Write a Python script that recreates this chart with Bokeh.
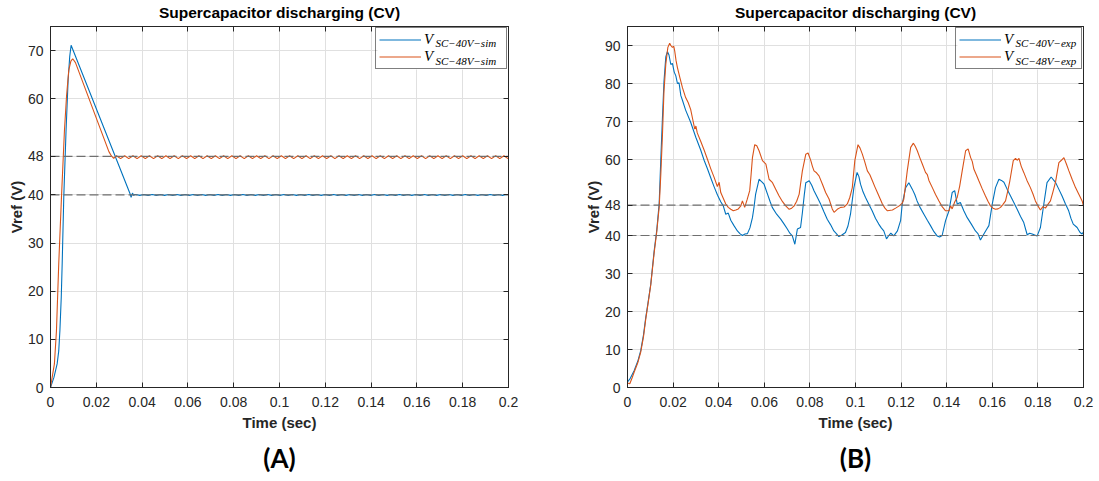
import numpy as np
from bokeh.plotting import figure
from bokeh.layouts import row
from bokeh.models import (FixedTicker, LinearAxis, Span, Legend, LegendItem, Label, Title,
                          CustomLabelingPolicy, BoxAnnotation)
from bokeh.embed import file_html
from bokeh.resources import INLINE

# ------------------------------------------------------------------ data
x_ticks = [0, 0.02, 0.04, 0.06, 0.08, 0.1, 0.12, 0.14, 0.16, 0.18, 0.2]
x_tick_labels = ["0", "0.02", "0.04", "0.06", "0.08", "0.1", "0.12", "0.14", "0.16", "0.18", "0.2"]
y_ticks_a = [0, 10, 20, 30, 40, 48, 60, 70]
y_ticks_b = [0, 10, 20, 30, 40, 48, 60, 70, 80, 90]
ref_levels = [40, 48]
panel_titles = ["Supercapacitor discharging (CV)", "Supercapacitor discharging (CV)"]
panel_captions = ["(A)", "(B)"]
legend_subs_a = ["SC\u221240V\u2212sim", "SC\u221248V\u2212sim"]
legend_subs_b = ["SC\u221240V\u2212exp", "SC\u221248V\u2212exp"]

# (A) simulation, V_SC-40V-sim : rise, peak, linear decay
sim40_t = [0, 0.0015, 0.0029, 0.0036, 0.0041, 0.0047, 0.0051, 0.0058, 0.0068, 0.0077,
           0.0084, 0.0090, 0.0347, 0.0352, 0.0358, 0.0363, 0.0368]
sim40_v = [0, 2.1, 4.9, 7.6, 11.8, 18.8, 25.7, 39.6, 53.5, 63.9,
           68.8, 71.1, 40.3, 39.5, 40.4, 39.9, 40.1]
# small steady-state ripple around 40 V (from t = 0.0372 s, every 0.0018 s)
sim40_ripple_v = [
    40.10, 39.92, 40.10, 39.92, 40.10, 39.92, 40.10, 39.92, 40.10, 39.92,
    40.10, 39.92, 40.10, 39.92, 40.10, 39.92, 40.10, 39.92, 40.10, 39.92,
    40.10, 39.92, 40.10, 39.92, 40.10, 39.92, 40.10, 39.92, 40.10, 39.92,
    40.10, 39.92, 40.10, 39.92, 40.10, 39.92, 40.10, 39.92, 40.10, 39.92,
    40.10, 39.92, 40.10, 39.92, 40.10, 39.92, 40.10, 39.92, 40.10, 39.92,
    40.10, 39.92, 40.10, 39.92, 40.10, 39.92, 40.10, 39.92, 40.10, 39.92,
    40.10, 39.92, 40.10, 39.92, 40.10, 39.92, 40.10, 39.92, 40.10, 39.92,
    40.10, 39.92, 40.10, 39.92, 40.10, 39.92, 40.10, 39.92, 40.10, 39.92,
    40.10, 39.92, 40.10, 39.92, 40.10, 39.92, 40.10, 39.92, 40.10, 39.92,
    40.10]

# (A) simulation, V_SC-48V-sim
sim48_t = [0, 0.0017, 0.0026, 0.0036, 0.0048, 0.0061, 0.0070, 0.0080, 0.0089, 0.0097,
           0.0109, 0.0255, 0.0266, 0.0276]
sim48_v = [0, 4.9, 11.8, 25.7, 39.6, 53.5, 60.5, 66.0, 67.8, 68.3,
           67.5, 49.0, 48.1, 47.6]
# steady-state ripple around 48 V (from t = 0.0288 s, every 0.0018 s)
sim48_ripple_v = [
    48.15, 47.55, 48.15, 47.55, 48.15, 47.55, 48.15, 47.55, 48.15, 47.55, 48.15, 47.55,
    48.15, 47.55, 48.15, 47.55, 48.15, 47.55, 48.15, 47.55, 48.15, 47.55, 48.15, 47.55,
    48.15, 47.55, 48.15, 47.55, 48.15, 47.55, 48.15, 47.55, 48.15, 47.55, 48.15, 47.55,
    48.15, 47.55, 48.15, 47.55, 48.15, 47.55, 48.15, 47.55, 48.15, 47.55, 48.15, 47.55,
    48.15, 47.55, 48.15, 47.55, 48.15, 47.55, 48.15, 47.55, 48.15, 47.55, 48.15, 47.55,
    48.15, 47.55, 48.15, 47.55, 48.15, 47.55, 48.15, 47.55, 48.15, 47.55, 48.15, 47.55,
    48.15, 47.55, 48.15, 47.55, 48.15, 47.55, 48.15, 47.55, 48.15, 47.55, 48.15, 47.55,
    48.15, 47.55, 48.15, 47.55, 48.15, 47.55, 48.15, 47.55, 48.15, 47.55, 48.15, 47.55]

# (B) experiment, V_SC-40V-exp
exp40_t = [0, 0.001, 0.0029, 0.0045, 0.0058, 0.007, 0.008, 0.009, 0.0102, 0.0117,
           0.0128, 0.0139, 0.0146, 0.0153, 0.016, 0.0168, 0.0175, 0.0182, 0.019, 0.0197,
           0.0205, 0.0212, 0.0219, 0.0226, 0.0234, 0.0241, 0.0255, 0.0277, 0.03, 0.0321,
           0.0336, 0.0351, 0.0365, 0.038, 0.0395, 0.0409, 0.042, 0.0431, 0.0442, 0.0453,
           0.0467, 0.0482, 0.0493, 0.0504, 0.0515, 0.0526, 0.0537, 0.0548, 0.0555, 0.0562,
           0.0577, 0.0588, 0.0599, 0.0614, 0.0625, 0.0635, 0.0654, 0.0672, 0.0687, 0.0701,
           0.0712, 0.0723, 0.0734, 0.0745, 0.0759, 0.0767, 0.0775, 0.0782, 0.0797, 0.0808,
           0.0818, 0.0833, 0.0847, 0.0862, 0.0876, 0.0891, 0.0905, 0.0916, 0.0927, 0.0942,
           0.0956, 0.0967, 0.0978, 0.0993, 0.1007, 0.1015, 0.1022, 0.1033, 0.1044, 0.1058,
           0.1073, 0.1088, 0.1102, 0.1113, 0.1124, 0.1136, 0.1146, 0.1155, 0.1168, 0.1184,
           0.1198, 0.1205, 0.122, 0.1234, 0.1249, 0.126, 0.127, 0.1285, 0.13, 0.1315,
           0.1329, 0.1344, 0.1358, 0.1369, 0.138, 0.1395, 0.141, 0.1424, 0.1435, 0.1446,
           0.146, 0.1475, 0.149, 0.1508, 0.1526, 0.1537, 0.1548, 0.1563, 0.1574, 0.1585,
           0.16, 0.1614, 0.1629, 0.164, 0.1651, 0.1665, 0.168, 0.1695, 0.1709, 0.1724,
           0.1738, 0.1753, 0.1764, 0.1775, 0.1786, 0.1797, 0.1811, 0.1826, 0.184, 0.1858,
           0.1877, 0.189, 0.1906, 0.192, 0.1935, 0.1945, 0.1955, 0.1972, 0.1985, 0.1994,
           0.2]
exp40_v = [1.5, 2.2, 4.4, 6.9, 9.7, 13.8, 18.4, 22.3, 27.2, 36.0,
           41.2, 48.5, 60.0, 70.5, 80.5, 87.0, 88.4, 87.5, 85.0, 85.3,
           83.0, 82.0, 80.0, 80.2, 76.8, 75.6, 73.0, 69.8, 65.8, 62.5,
           59.8, 57.5, 55.2, 52.8, 50.6, 48.9, 47.8, 45.6, 45.9, 44.0,
           42.6, 41.2, 40.5, 40.0, 40.4, 40.5, 42.0, 44.7, 47.5, 50.9,
           54.8, 54.2, 53.5, 50.9, 49.0, 47.4, 45.6, 44.3, 43.0, 41.7,
           40.6, 39.9, 37.7, 41.7, 42.1, 46.0, 50.5, 53.9, 54.4, 53.2,
           51.8, 50.0, 48.3, 46.2, 44.3, 42.8, 41.2, 40.5, 39.7, 40.2,
           40.8, 42.5, 45.6, 52.6, 56.6, 55.5, 53.5, 51.5, 50.0, 48.3,
           46.5, 44.5, 43.0, 42.0, 41.2, 39.1, 40.0, 40.6, 39.9, 41.2,
           44.0, 48.3, 52.6, 53.9, 52.2, 50.8, 49.1, 47.2, 45.6, 44.0,
           42.6, 41.0, 39.9, 39.6, 40.0, 43.9, 46.5, 51.3, 51.8, 48.3,
           48.7, 46.5, 44.7, 43.0, 41.2, 40.5, 38.8, 40.4, 41.5, 42.6,
           48.3, 52.6, 54.8, 54.5, 54.0, 52.2, 50.4, 48.6, 46.9, 45.0,
           43.4, 40.2, 40.6, 40.4, 40.1, 39.9, 42.1, 48.3, 53.9, 55.4,
           54.0, 52.4, 50.4, 48.4, 46.5, 44.5, 43.0, 42.1, 40.8, 40.4,
           41.0]

# (B) experiment, V_SC-48V-exp
exp48_t = [0, 0.001, 0.002, 0.0029, 0.0045, 0.0058, 0.007, 0.008, 0.009, 0.0102,
           0.0117, 0.0128, 0.0139, 0.0146, 0.0153, 0.016, 0.0168, 0.0177, 0.0185, 0.019,
           0.0197, 0.0203, 0.0207, 0.0213, 0.0219, 0.023, 0.0241, 0.0255, 0.0266, 0.0277,
           0.0288, 0.0295, 0.03, 0.0306, 0.0321, 0.0336, 0.0351, 0.0365, 0.038, 0.0394,
           0.0402, 0.0409, 0.042, 0.0431, 0.0442, 0.0453, 0.0464, 0.0475, 0.0486, 0.0497,
           0.0504, 0.0514, 0.0525, 0.0536, 0.0542, 0.0548, 0.0558, 0.0567, 0.0577, 0.0592,
           0.0607, 0.0621, 0.0636, 0.065, 0.0665, 0.068, 0.0694, 0.0709, 0.072, 0.0731,
           0.0742, 0.0753, 0.076, 0.0767, 0.0782, 0.0792, 0.0804, 0.0811, 0.0818, 0.0829,
           0.084, 0.0855, 0.0869, 0.0884, 0.0891, 0.0898, 0.0906, 0.092, 0.0935, 0.095,
           0.0964, 0.0975, 0.0986, 0.0997, 0.1011, 0.102, 0.103, 0.104, 0.1052, 0.1063,
           0.1074, 0.1085, 0.1096, 0.1107, 0.1118, 0.1129, 0.114, 0.1162, 0.1176, 0.1192,
           0.1205, 0.1212, 0.1227, 0.1242, 0.1254, 0.1262, 0.1271, 0.1282, 0.1293, 0.1307,
           0.1315, 0.1322, 0.1337, 0.1351, 0.1366, 0.138, 0.1395, 0.141, 0.1417, 0.1424,
           0.1435, 0.1446, 0.1457, 0.1468, 0.1483, 0.1494, 0.1505, 0.1512, 0.1519, 0.153,
           0.1541, 0.1555, 0.157, 0.1581, 0.1592, 0.1603, 0.1614, 0.1625, 0.1636, 0.1647,
           0.1658, 0.1667, 0.1677, 0.1692, 0.1702, 0.1709, 0.1717, 0.1727, 0.1738, 0.1752,
           0.1767, 0.1778, 0.1789, 0.18, 0.1811, 0.1822, 0.1833, 0.1844, 0.1855, 0.1866,
           0.1877, 0.1892, 0.1903, 0.1914, 0.1925, 0.1936, 0.195, 0.1965, 0.198, 0.1994,
           0.2]
exp48_v = [1.2, 1.0, 2.5, 4.0, 6.5, 9.3, 13.3, 18.0, 22.0, 27.0,
           35.5, 40.8, 47.5, 56.0, 66.0, 78.0, 85.1, 89.5, 90.6, 90.0,
           89.5, 89.8, 88.6, 86.0, 84.2, 81.5, 78.9, 76.3, 75.0, 73.2,
           70.0, 68.0, 68.8, 67.0, 64.8, 62.5, 60.0, 57.6, 55.3, 52.9,
           54.0, 51.3, 49.8, 48.3, 47.4, 46.9, 46.5, 46.7, 47.0, 47.8,
           49.1, 47.4, 49.5, 51.8, 56.0, 60.5, 63.9, 63.6, 62.3, 59.7,
           58.8, 54.8, 53.9, 52.2, 50.4, 48.9, 47.8, 46.9, 47.2, 47.8,
           49.0, 50.9, 54.0, 57.0, 61.4, 61.7, 59.7, 58.2, 57.0, 56.5,
           55.7, 53.5, 51.3, 49.6, 48.3, 47.0, 46.1, 46.9, 47.4, 47.5,
           48.3, 50.0, 52.6, 59.7, 63.9, 63.0, 61.4, 59.5, 57.0, 56.0,
           54.4, 52.8, 51.3, 49.8, 48.3, 47.2, 46.5, 46.7, 47.2, 47.8,
           48.5, 49.6, 57.0, 63.2, 64.3, 63.5, 62.3, 60.5, 58.8, 56.6,
           56.0, 54.5, 52.6, 50.8, 49.1, 47.6, 46.5, 46.5, 47.8, 47.0,
           48.8, 50.0, 53.0, 57.0, 62.3, 62.8, 60.5, 59.5, 57.5, 56.0,
           54.4, 52.4, 50.4, 49.0, 47.8, 47.2, 46.9, 47.0, 47.4, 48.2,
           49.1, 51.5, 54.4, 59.7, 60.3, 59.8, 60.3, 58.2, 56.6, 54.5,
           52.6, 51.0, 49.1, 47.8, 46.7, 47.6, 47.2, 48.2, 49.1, 51.5,
           54.0, 59.2, 59.8, 60.5, 58.8, 57.0, 54.8, 52.6, 50.8, 49.1,
           47.8]

# ------------------------------------------------------------------ helpers
BLUE = "#0072BD"
RED = "#D95319"
AXC = "#262626"
FONT = "Liberation Sans"

sim40_rip_t = np.round(0.0372 + 0.0018 * np.arange(len(sim40_ripple_v)), 5)
sim48_rip_t = np.round(0.0288 + 0.0018 * np.arange(len(sim48_ripple_v)), 5)
sim40_all_t = list(sim40_t) + list(sim40_rip_t) + [0.2]
sim40_all_v = list(sim40_v) + list(sim40_ripple_v) + [sim40_ripple_v[-1]]
sim48_all_t = list(sim48_t) + list(sim48_rip_t) + [0.2]
sim48_all_v = list(sim48_v) + list(sim48_ripple_v) + [sim48_ripple_v[-1]]


def style_axis(ax, ticker, show_labels=True):
    ax.ticker = ticker
    ax.major_tick_in = 5
    ax.major_tick_out = 0
    ax.minor_tick_in = 0
    ax.minor_tick_out = 0
    ax.axis_line_color = AXC
    ax.axis_line_width = 1
    ax.major_tick_line_color = AXC
    ax.major_label_text_color = AXC
    ax.major_label_text_font = FONT
    ax.major_label_text_font_size = "14px"
    if not show_labels:
        ax.major_label_text_font_size = "1px"
        ax.major_label_standoff = 0
        ax.major_label_policy = CustomLabelingPolicy(code="return new Set()")


def make_panel(width, border_left, border_right, ymax, yticks, title, caption,
               series, subs, leg_label_width, sub_x, sub_y, box):
    p = figure(width=width, height=481, x_range=(0, 0.2), y_range=(0, ymax),
               output_backend="svg", toolbar_location=None,
               min_border_left=border_left, min_border_right=border_right,
               min_border_top=26, min_border_bottom=94)
    p.title = Title(text=title, align="center", text_font=FONT, text_font_size="15.5px",
                    text_font_style="bold", text_color="#000000", standoff=3)
    xt = FixedTicker(ticks=x_ticks)
    yt = FixedTicker(ticks=yticks)
    style_axis(p.xaxis[0], xt)
    style_axis(p.yaxis[0], yt)
    p.xaxis[0].major_label_overrides = dict(zip(x_ticks, x_tick_labels))
    p.xaxis[0].major_label_standoff = 9
    p.yaxis[0].major_label_standoff = 7
    p.xaxis[0].axis_label = "Time (sec)"
    p.yaxis[0].axis_label = "Vref (V)"
    for ax in (p.xaxis[0], p.yaxis[0]):
        ax.axis_label_text_font = FONT
        ax.axis_label_text_font_size = "15px"
        ax.axis_label_text_font_style = "bold"
        ax.axis_label_text_color = AXC
    p.xaxis[0].axis_label_standoff = 4
    p.yaxis[0].axis_label_standoff = 0
    top = LinearAxis()
    style_axis(top, FixedTicker(ticks=x_ticks), show_labels=False)
    right = LinearAxis()
    style_axis(right, FixedTicker(ticks=yticks), show_labels=False)
    p.add_layout(top, "above")
    p.add_layout(right, "right")

    p.xgrid.ticker = xt
    p.ygrid.ticker = yt
    for g in (p.xgrid[0], p.ygrid[0]):
        g.grid_line_color = "#e0e0e0"
        g.grid_line_width = 1
    p.outline_line_color = AXC
    p.background_fill_color = "white"
    p.border_fill_color = "white"

    for lvl in ref_levels:
        sp = Span(location=lvl, dimension="width", line_color="#6f6f6f",
                  line_width=1.2, line_dash="9 4", level="glyph")
        p.add_layout(sp)

    renderers = []
    for (t, v, col) in series:
        r = p.line(t, v, line_color=col, line_width=1.1)
        renderers.append(r)

    # white backing of the legend box (legend itself is drawn transparent on top)
    p.add_layout(BoxAnnotation(left=box[0], right=box[1], bottom=box[2], top=box[3],
                               fill_color="white", fill_alpha=1, line_alpha=0))

    for i, s in enumerate(subs):
        lab = Label(x=sub_x, y=sub_y[i], x_units="data", y_units="data",
                    text=s, text_font="Liberation Serif", text_font_style="italic",
                    text_font_size="11px", text_color="#000000",
                    text_baseline="alphabetic", text_align="left")
        p.add_layout(lab)

    leg = Legend(items=[LegendItem(label="V", renderers=[renderers[0]]),
                        LegendItem(label="V", renderers=[renderers[1]])],
                 location="top_right", margin=1, padding=3, spacing=0,
                 label_height=15, glyph_height=15, glyph_width=42,
                 label_standoff=3, label_width=leg_label_width,
                 border_line_color="#000000", border_line_width=1,
                 background_fill_alpha=0,
                 label_text_font="Liberation Serif", label_text_font_style="italic",
                 label_text_font_size="15px", label_text_color="#000000")
    p.add_layout(leg)

    p.add_layout(Title(text=caption, align="center", text_font="Lato",
                       text_font_size="26px", text_font_style="bold",
                       text_color="#000000", standoff=13), "below")
    return p


pa = make_panel(568, 50, 60, 75, y_ticks_a, panel_titles[0], panel_captions[0],
                [(sim40_all_t, sim40_all_v, BLUE), (sim48_all_t, sim48_all_v, RED)],
                legend_subs_a, 79, 0.1681, [71.5, 67.75],
                (0.1428, 0.1998, 66.07, 74.9))
pb = make_panel(531, 59, 16, 95, y_ticks_b, panel_titles[1], panel_captions[1],
                [(exp40_t, exp40_v, BLUE), (exp48_t, exp48_v, RED)],
                legend_subs_b, 74, 0.1702, [90.55, 85.8],
                (0.1447, 0.1998, 83.68, 94.9))

layout = row(pa, pb)
open("out.html", "w").write(file_html(layout, INLINE))
